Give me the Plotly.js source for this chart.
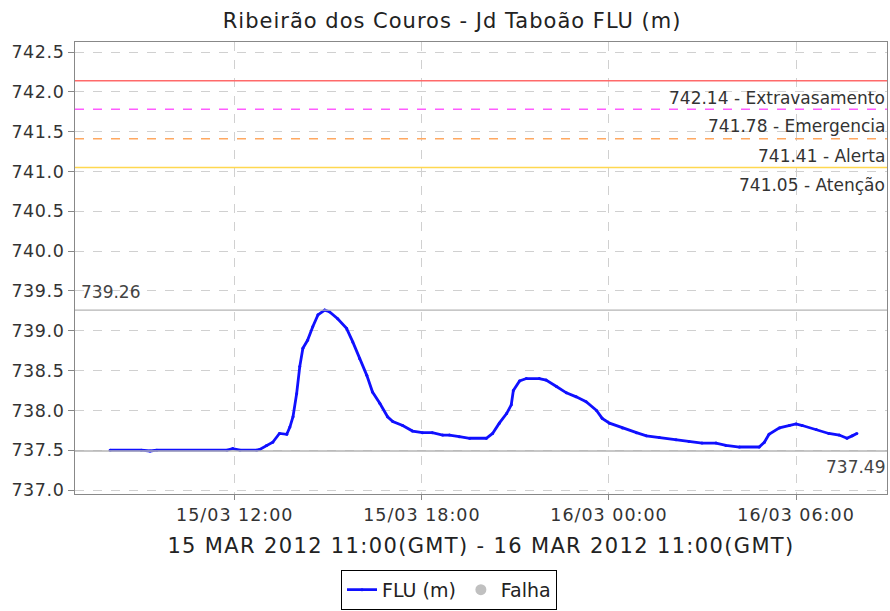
<!DOCTYPE html>
<html>
<head>
<meta charset="utf-8">
<script src="https://cdn.plot.ly/plotly-3.0.1.min.js"></script>
<style>
html,body{margin:0;padding:0;background:#fff;}
#chart{width:890px;height:611px;}
#chart .gtitle{letter-spacing:1px;}
#chart .xtitle{letter-spacing:1.35px;}
#chart .xtick text{letter-spacing:1px;}
#chart .ytick text{letter-spacing:0.6px;}
</style>
</head>
<body>
<div id="chart"></div>
<script>
// Level readings (local time), FLU (m)
const times = [
 '2012-03-15 08:00','2012-03-15 09:00','2012-03-15 09:17','2012-03-15 09:30','2012-03-15 11:45','2012-03-15 11:56',
 '2012-03-15 12:10','2012-03-15 12:42','2012-03-15 12:48','2012-03-15 13:01','2012-03-15 13:13','2012-03-15 13:26',
 '2012-03-15 13:40','2012-03-15 13:46','2012-03-15 13:52','2012-03-15 13:59','2012-03-15 14:05','2012-03-15 14:11',
 '2012-03-15 14:20','2012-03-15 14:30','2012-03-15 14:40','2012-03-15 14:53','2012-03-15 15:02','2012-03-15 15:18',
 '2012-03-15 15:35','2012-03-15 15:47','2012-03-15 16:00','2012-03-15 16:14','2012-03-15 16:25','2012-03-15 16:39',
 '2012-03-15 16:54','2012-03-15 17:04','2012-03-15 17:23','2012-03-15 17:42','2012-03-15 18:01','2012-03-15 18:20',
 '2012-03-15 18:40','2012-03-15 18:53','2012-03-15 19:12','2012-03-15 19:32','2012-03-15 20:04','2012-03-15 20:16',
 '2012-03-15 20:29','2012-03-15 20:43','2012-03-15 20:52','2012-03-15 20:56','2012-03-15 21:08','2012-03-15 21:21',
 '2012-03-15 21:46','2012-03-15 21:59','2012-03-15 22:19','2012-03-15 22:38','2012-03-15 22:57','2012-03-15 23:16',
 '2012-03-15 23:36','2012-03-15 23:47','2012-03-16 00:01','2012-03-16 00:26','2012-03-16 00:53','2012-03-16 01:12',
 '2012-03-16 01:37','2012-03-16 02:09','2012-03-16 02:34','2012-03-16 02:59','2012-03-16 03:26','2012-03-16 03:45',
 '2012-03-16 04:11','2012-03-16 04:49','2012-03-16 04:59','2012-03-16 05:08','2012-03-16 05:28','2012-03-16 05:47',
 '2012-03-16 06:00','2012-03-16 06:12','2012-03-16 06:39','2012-03-16 07:03','2012-03-16 07:23','2012-03-16 07:38',
 '2012-03-16 07:48','2012-03-16 07:57'
];
const levels = [
 737.50,737.50,737.49,737.50,737.50,737.52,
 737.50,737.50,737.51,737.56,737.60,737.71,
 737.70,737.79,737.92,738.21,738.55,738.78,
 738.88,739.05,739.20,739.26,739.24,739.15,
 739.03,738.86,738.65,738.44,738.23,738.09,
 737.92,737.86,737.81,737.74,737.72,737.72,
 737.69,737.69,737.67,737.65,737.65,737.71,
 737.84,737.96,738.07,738.25,738.37,738.40,
 738.40,738.38,738.30,738.22,738.17,738.11,
 738.00,737.90,737.84,737.78,737.72,737.68,
 737.66,737.63,737.61,737.59,737.59,737.56,
 737.54,737.54,737.60,737.70,737.78,737.81,
 737.83,737.81,737.76,737.71,737.69,737.65,
 737.68,737.71
];
// Alert thresholds
const thresholdValues = [742.14, 741.78, 741.41, 741.05];
const thresholdNames = ['Extravasamento', 'Emergencia', 'Alerta', 'Atenção'];
const thresholdColors = ['#ff6a6a', '#ff5cff', '#ffa860', '#ffd850'];
const thresholdDash = ['solid', 'dash', 'dash', 'solid'];
// Max / min markers
const maxLevel = 739.26;
const minLevel = 737.49;
// X tick labels
const tickTimes = ['2012-03-15 12:00','2012-03-15 18:00','2012-03-16 00:00','2012-03-16 06:00'];
const tickLabels = ['15/03 12:00','15/03 18:00','16/03 00:00','16/03 06:00'];

const FONT = '"DejaVu Sans", sans-serif';

const shapes = thresholdValues.map((v, i) => ({
  type: 'line', xref: 'paper', x0: 0, x1: 1, yref: 'y', y0: v, y1: v,
  line: {color: thresholdColors[i], width: 1.5, dash: thresholdDash[i]}
}));
[maxLevel, minLevel].forEach(v => shapes.push({
  type: 'line', xref: 'paper', x0: 0, x1: 1, yref: 'y', y0: v, y1: v,
  line: {color: '#b4b4b4', width: 1.3}
}));

const annotations = thresholdValues.map((v, i) => ({
  xref: 'paper', x: 1, xanchor: 'right', yref: 'y', y: v, yanchor: 'top', yshift: -5,
  text: v.toFixed(2) + ' - ' + thresholdNames[i], showarrow: false,
  font: {family: FONT, size: 17, color: '#333'}
}));
annotations.push({
  xref: 'paper', x: 0, xanchor: 'left', xshift: 4, yref: 'y', y: maxLevel, yanchor: 'bottom', yshift: 6,
  text: maxLevel.toFixed(2), showarrow: false, font: {family: FONT, size: 17, color: '#444'}
});
annotations.push({
  xref: 'paper', x: 1, xanchor: 'right', yref: 'y', y: minLevel, yanchor: 'top', yshift: -4,
  text: minLevel.toFixed(2), showarrow: false, font: {family: FONT, size: 17, color: '#444'}
});

const traces = [
  {x: times, y: levels, type: 'scatter', mode: 'lines+markers', name: 'FLU (m)',
   line: {color: '#1010ff', width: 2.8}, marker: {size: 3, color: '#1010ff'}},
  {x: [null], y: [null], type: 'scatter', mode: 'markers', name: 'Falha',
   marker: {size: 11, color: '#c0c0c0'}}
];

const layout = {
  width: 890, height: 611,
  margin: {l: 75, r: 3, t: 42, b: 117},
  paper_bgcolor: '#fff', plot_bgcolor: '#fff',
  font: {family: FONT, color: '#333'},
  title: {text: 'Ribeirão dos Couros - Jd Taboão FLU (m)', x: 0.508, xanchor: 'center', y: 0.967, yanchor: 'middle',
          font: {family: FONT, size: 21, color: '#222'}},
  xaxis: {
    type: 'date', range: ['2012-03-15 06:52:30', '2012-03-16 08:55'],
    tickmode: 'array', tickvals: tickTimes, ticktext: tickLabels,
    ticks: 'outside', ticklen: 5, tickcolor: '#888',
    showgrid: true, gridcolor: '#d0d0d0', griddash: 'dash', gridwidth: 1,
    showline: true, linecolor: '#888', linewidth: 1, mirror: true, zeroline: false,
    tickfont: {family: FONT, size: 17.5, color: '#333'},
    title: {text: '15 MAR 2012 11:00(GMT) - 16 MAR 2012 11:00(GMT)', standoff: 14,
            font: {family: FONT, size: 21, color: '#222'}}
  },
  yaxis: {
    range: [736.95, 742.626], dtick: 0.5, tick0: 737, tickformat: '.1f',
    ticks: 'outside', ticklen: 6, tickcolor: '#888',
    showgrid: true, gridcolor: '#d0d0d0', griddash: 'dash', gridwidth: 1,
    showline: true, linecolor: '#888', linewidth: 1, mirror: true, zeroline: false,
    tickfont: {family: FONT, size: 17.5, color: '#333'}
  },
  showlegend: true,
  legend: {orientation: 'h', xref: 'container', x: 0.5045, xanchor: 'center',
           yref: 'container', y: 0.002, yanchor: 'bottom',
           bordercolor: '#000', borderwidth: 1, font: {family: FONT, size: 19, color: '#222'},
           itemwidth: 30, tracegroupgap: 0},
  shapes: shapes,
  annotations: annotations
};

Plotly.newPlot('chart', traces, layout, {displayModeBar: false, staticPlot: true});
</script>
</body>
</html>
